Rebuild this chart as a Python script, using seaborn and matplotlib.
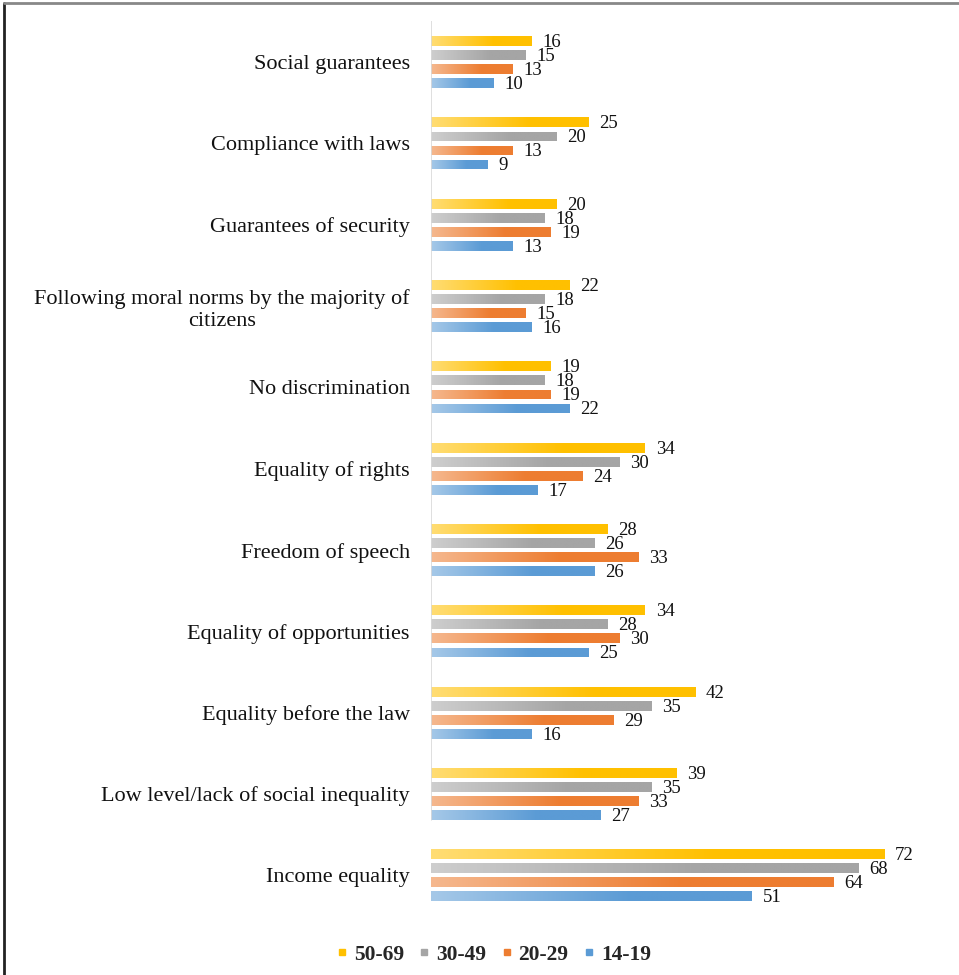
import matplotlib
matplotlib.use("Agg")
import matplotlib.pyplot as plt
import seaborn as sns
import pandas as pd
import numpy as np
from matplotlib.lines import Line2D
from matplotlib.colors import to_rgb

categories = [
    "Social guarantees",
    "Compliance with laws",
    "Guarantees of security",
    "Following moral norms by the majority of\ncitizens",
    "No discrimination",
    "Equality of rights",
    "Freedom of speech",
    "Equality of opportunities",
    "Equality before the law",
    "Low level/lack of social inequality",
    "Income equality",
]
age_groups = ["50-69", "30-49", "20-29", "14-19"]
v_50_69 = [16, 25, 20, 22, 19, 34, 28, 34, 42, 39, 72]
v_30_49 = [15, 20, 18, 18, 18, 30, 26, 28, 35, 35, 68]
v_20_29 = [13, 13, 19, 15, 19, 24, 33, 30, 29, 33, 64]
v_14_19 = [10, 9, 13, 16, 22, 17, 26, 25, 16, 27, 51]
colors = ["#FFC000", "#A5A5A5", "#ED7D31", "#5B9BD5"]

rows = []
for g, vals in zip(age_groups, [v_50_69, v_30_49, v_20_29, v_14_19]):
    for c, v in zip(categories, vals):
        rows.append({"category": c, "group": g, "value": v})
df = pd.DataFrame(rows)

sns.set_theme(style="white")
plt.rcParams["font.family"] = ["Liberation Serif", "DejaVu Serif"]

fig = plt.figure(figsize=(9.59, 9.75), dpi=100)
ax = fig.add_axes([0.449, 0.0605, 0.525, 0.9175])

sns.barplot(data=df, y="category", x="value", hue="group", order=categories,
            hue_order=age_groups, palette=colors, orient="h", width=0.69,
            gap=0.3, ax=ax, legend=False, saturation=1)

ax.set_xlim(0, 80)
ax.set_ylim(10.5, -0.5)

# soft horizontal gradient on each bar (lighter at the left end)
for cont, col in zip(ax.containers, colors):
    rgb = np.array(to_rgb(col))
    t = np.linspace(0, 1, 64)
    mix = 0.55 + 0.45 * np.clip(t * 1.6, 0, 1)
    grad = rgb[None, :] * mix[:, None] + (1 - mix[:, None]) * 1.0
    grad = grad[None, :, :]
    for bar in cont:
        x0, y0 = bar.get_x(), bar.get_y()
        w, h = bar.get_width(), bar.get_height()
        bar.set_facecolor("none")
        bar.set_edgecolor("none")
        im = ax.imshow(grad, extent=(x0, x0 + w, y0 + h, y0), aspect="auto",
                       interpolation="bilinear", zorder=2)
        im.set_clip_path(bar)
        ax.annotate(f"{int(round(w))}", xy=(w, y0 + h / 2),
                    xytext=(8, -1), textcoords="offset points", ha="left", va="center",
                    fontsize=13.5, color="#111111")

ax.set_xlim(0, 80)
ax.set_ylim(10.5, -0.5)
ax.set_xlabel("")
ax.set_ylabel("")
ax.set_xticks([])
for s in ax.spines.values():
    s.set_visible(False)
ax.axvline(0, ymin=0.107, ymax=1.0, color="#d9d9d9", lw=1.2)
ax.tick_params(axis="y", length=0, pad=15, labelsize=16, colors="#111111")
for lab in ax.get_yticklabels():
    lab.set_multialignment("center")

handles = [Line2D([], [], marker="s", linestyle="none", markersize=5,
                  markerfacecolor=c, markeredgecolor=c) for c in colors]
leg = fig.legend(handles, age_groups, loc="center", bbox_to_anchor=(0.512, 0.021),
                 ncol=4, frameon=False, handletextpad=0.05, columnspacing=0.45,
                 handlelength=1.0, prop={"weight": "bold", "size": 15.5})

fig.add_artist(Line2D([0.0045, 0.0045], [0, 0.997], transform=fig.transFigure,
                      color="#222222", lw=2))
fig.add_artist(Line2D([0.0045, 1.0], [0.997, 0.997], transform=fig.transFigure,
                      color="#888888", lw=2))

fig.savefig("out.png", dpi=100, facecolor="white")
